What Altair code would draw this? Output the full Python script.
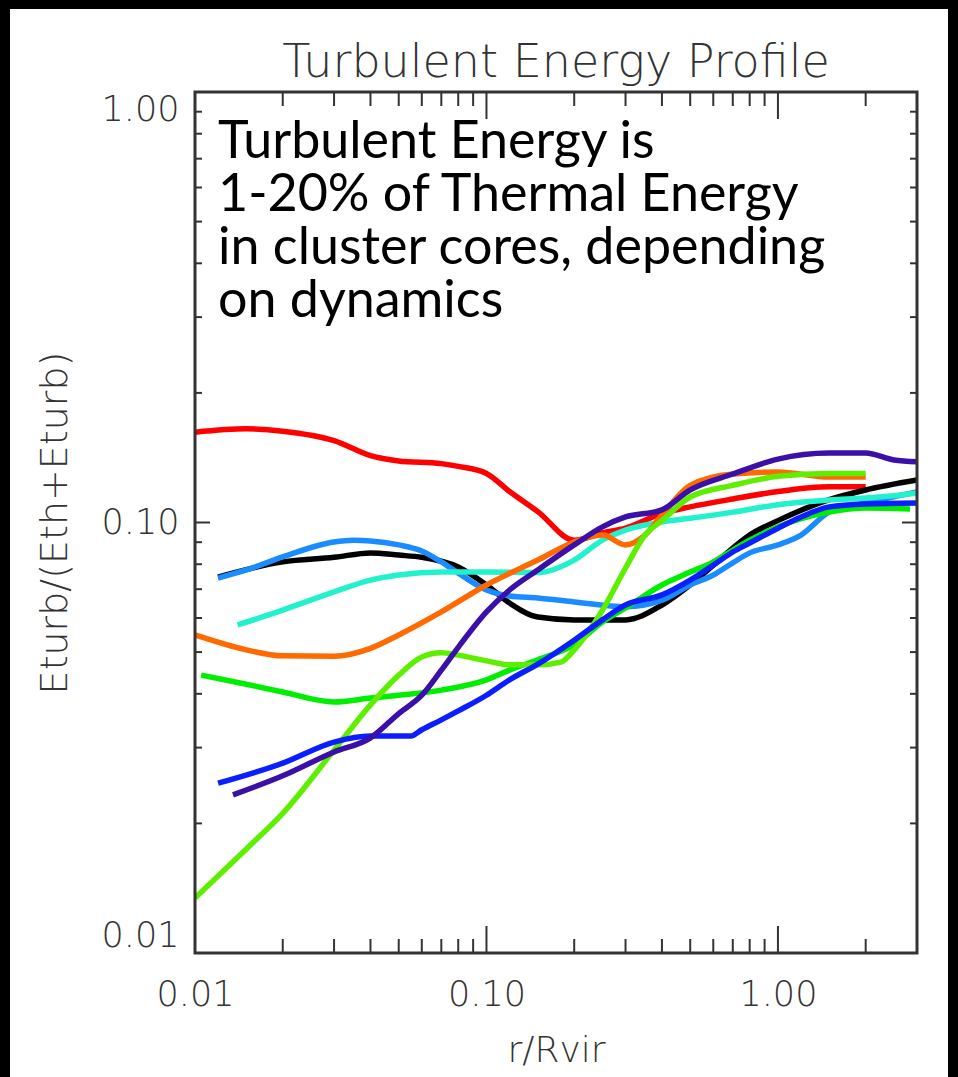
import altair as alt
import pandas as pd

W, H = 722, 861

names = ["red", "black", "lightblue", "cyan", "orange", "green", "yellowgreen", "blue", "purple"]
colors = ["#ff0000", "#000000", "#1a8cff", "#22f2cc", "#ff6a00", "#00ee00", "#5eef00", "#0a1eff", "#3a10a8"]

red_x = [0.01, 0.015, 0.02, 0.03, 0.04, 0.05, 0.07, 0.08, 0.1, 0.12, 0.15, 0.2, 0.25, 0.3, 0.4, 0.5, 0.7, 1.0, 1.5, 2.0]
red_y = [0.162, 0.165, 0.163, 0.155, 0.143, 0.139, 0.137, 0.135, 0.130, 0.118, 0.106, 0.091, 0.0946, 0.097, 0.105, 0.1087, 0.1134, 0.118, 0.121, 0.121]

black_x = [0.012, 0.02, 0.03, 0.04, 0.05, 0.06, 0.08, 0.1, 0.12, 0.15, 0.2, 0.3, 0.4, 0.5, 0.6, 0.7, 0.8, 1.0, 1.5, 2.0, 3.0]
black_y = [0.0747, 0.081, 0.083, 0.085, 0.084, 0.083, 0.0788, 0.0716, 0.065, 0.0603, 0.0594, 0.0594, 0.0643, 0.0716, 0.0796, 0.0872, 0.0935, 0.101, 0.113, 0.119, 0.1255]

lightblue_x = [0.012, 0.015, 0.02, 0.03, 0.035, 0.04, 0.05, 0.06, 0.07, 0.08, 0.1, 0.12, 0.15, 0.2, 0.3, 0.4, 0.5, 0.6, 0.7, 0.8, 1.0, 1.2, 1.5, 2.0, 3.0]
lightblue_y = [0.0743, 0.0776, 0.0832, 0.0901, 0.0909, 0.0906, 0.0887, 0.0859, 0.081, 0.0763, 0.0697, 0.0675, 0.0668, 0.0654, 0.0637, 0.066, 0.0716, 0.0755, 0.0806, 0.085, 0.0887, 0.0935, 0.1057, 0.111, 0.1178]

cyan_x = [0.014, 0.02, 0.03, 0.04, 0.05, 0.07, 0.1, 0.15, 0.2, 0.25, 0.3, 0.4, 0.5, 0.7, 1.0, 1.5, 2.0, 3.0]
cyan_y = [0.0578, 0.0626, 0.069, 0.0735, 0.0755, 0.0767, 0.0767, 0.0765, 0.0818, 0.091, 0.096, 0.1003, 0.1023, 0.1057, 0.11, 0.1128, 0.114, 0.117]

orange_x = [0.01, 0.015, 0.02, 0.03, 0.04, 0.05, 0.07, 0.1, 0.15, 0.2, 0.25, 0.3, 0.35, 0.4, 0.5, 0.7, 1.0, 1.5, 2.0]
orange_y = [0.0548, 0.0506, 0.049, 0.0489, 0.051, 0.0548, 0.062, 0.0716, 0.0818, 0.0901, 0.0935, 0.0887, 0.0935, 0.104, 0.122, 0.1296, 0.131, 0.1275, 0.1275]

green_x = [0.0105, 0.015, 0.02, 0.03, 0.04, 0.05, 0.07, 0.1, 0.12, 0.15, 0.2, 0.25, 0.3, 0.4, 0.5, 0.6, 0.7, 0.8, 1.0, 1.5, 2.0, 2.84]
green_y = [0.0442, 0.0421, 0.0404, 0.0383, 0.0391, 0.0397, 0.0408, 0.0431, 0.0454, 0.048, 0.052, 0.0587, 0.0633, 0.0716, 0.0767, 0.081, 0.0863, 0.091, 0.0977, 0.1057, 0.108, 0.1075]

yellowgreen_x = [0.01, 0.015, 0.02, 0.03, 0.04, 0.05, 0.06, 0.07, 0.08, 0.1, 0.12, 0.15, 0.18, 0.2, 0.25, 0.3, 0.35, 0.4, 0.5, 0.7, 1.0, 1.5, 2.0]
yellowgreen_y = [0.01342, 0.01745, 0.0211, 0.0296, 0.0377, 0.0442, 0.0487, 0.0498, 0.0492, 0.0477, 0.0467, 0.0467, 0.0474, 0.0506, 0.0626, 0.0784, 0.0935, 0.101, 0.1146, 0.122, 0.128, 0.130, 0.130]

blue_x = [0.012, 0.02, 0.03, 0.04, 0.05, 0.055, 0.06, 0.07, 0.08, 0.1, 0.12, 0.15, 0.2, 0.25, 0.3, 0.4, 0.5, 0.6, 0.7, 0.8, 1.0, 1.2, 1.5, 2.0, 3.0]
blue_y = [0.0248, 0.0276, 0.0309, 0.0319, 0.0319, 0.0319, 0.033, 0.0348, 0.0365, 0.0397, 0.0431, 0.0469, 0.0533, 0.0594, 0.0643, 0.0679, 0.0735, 0.0796, 0.0854, 0.0896, 0.097, 0.103, 0.1087, 0.1104, 0.111]

purple_x = [0.0135, 0.02, 0.03, 0.04, 0.05, 0.06, 0.07, 0.08, 0.1, 0.12, 0.15, 0.2, 0.25, 0.3, 0.4, 0.5, 0.7, 1.0, 1.5, 2.0, 2.5, 3.0]
purple_y = [0.0233, 0.0258, 0.0293, 0.0316, 0.036, 0.0397, 0.0454, 0.0513, 0.062, 0.0697, 0.0776, 0.0887, 0.0977, 0.103, 0.107, 0.119, 0.1296, 0.1404, 0.145, 0.145, 0.1397, 0.1383]

x_major = [0.1, 1.0]
x_minor = [0.02, 0.03, 0.04, 0.05, 0.06, 0.07, 0.08, 0.09, 0.2, 0.3, 0.4, 0.5, 0.6, 0.7, 0.8, 0.9, 2.0]
y_major = [0.1]
y_minor = [0.02, 0.03, 0.04, 0.05, 0.06, 0.07, 0.08, 0.09, 0.2, 0.3, 0.4, 0.5, 0.6, 0.7, 0.8, 0.9]
x_labels = [0.01, 0.1, 1.0]
y_labels = [0.01, 0.1, 1.0]

title_text = "Turbulent  Energy  Profile"
annotation = "Turbulent Energy is\n1-20% of Thermal Energy\nin cluster cores,  depending\non dynamics"

series = {
    "red": (red_x, red_y), "black": (black_x, black_y), "lightblue": (lightblue_x, lightblue_y),
    "cyan": (cyan_x, cyan_y), "orange": (orange_x, orange_y), "green": (green_x, green_y),
    "yellowgreen": (yellowgreen_x, yellowgreen_y), "blue": (blue_x, blue_y), "purple": (purple_x, purple_y),
}
rows = []
for s, (xs_, ys_) in series.items():
    for i, (a, b) in enumerate(zip(xs_, ys_)):
        rows.append({"s": s, "x": a, "y": b, "i": i})
df = pd.DataFrame(rows)

INK = "#333333"
AXFONT = "DejaVu Sans"

xscale = alt.Scale(type="log", domain=[0.01, 3.0], nice=False)
yscale = alt.Scale(type="log", domain=[0.01, 1.0], nice=False)

xaxis = alt.Axis(values=x_labels, format=".2f", ticks=False, domain=False, grid=False,
                 labelFont=AXFONT, labelFontSize=35, labelFontWeight=200, labelColor=INK, labelPadding=24,
                 labelFlush=False, labelOverlap=False,
                 title="r/Rvir", titleFont=AXFONT, titleFontSize=36, titleFontWeight=200,
                 titleColor=INK, titleX=W / 2, titleY=97, titleBaseline="middle", titleAlign="center",
                 zindex=1)
yaxis = alt.Axis(values=y_labels, format=".2f", ticks=False, domain=False, grid=False,
                 labelFont=AXFONT, labelFontSize=35, labelFontWeight=200, labelColor=INK, labelPadding=16,
                 labelFlush=True, labelOverlap=False,
                 title="Eturb/(Eth+Eturb)", titleFont=AXFONT, titleFontSize=38, titleFontWeight=200,
                 titleColor=INK, titleX=-140, titleY=H / 2, titleBaseline="middle", titleAlign="center",
                 titleAngle=270, zindex=1)


def X(field):
    return alt.X(field, type="quantitative", scale=xscale, axis=xaxis)


def Y(field):
    return alt.Y(field, type="quantitative", scale=yscale, axis=yaxis)


one = pd.DataFrame({"a": [0]})

bg = alt.Chart(one).mark_rect(color="white").encode(
    x=alt.value(-185), x2=alt.value(W + 31), y=alt.value(-83), y2=alt.value(H + 124)
)

lines = alt.Chart(df).mark_line(strokeWidth=5.5, clip=True, interpolate="monotone").encode(
    x=X("x"), y=Y("y"),
    color=alt.Color("s:N", scale=alt.Scale(domain=names, range=colors), legend=None),
    order="i:Q",
)

tick_style = dict(color=INK, strokeWidth=2)
xmaj = pd.DataFrame({"v": x_major})
xmin = pd.DataFrame({"v": x_minor})
ymaj = pd.DataFrame({"v": y_major})
ymin = pd.DataFrame({"v": y_minor})

ticks = [
    alt.Chart(xmaj).mark_rule(**tick_style).encode(x=X("v"), y=alt.value(H), y2=alt.value(H - 27)),
    alt.Chart(xmin).mark_rule(**tick_style).encode(x=X("v"), y=alt.value(H), y2=alt.value(H - 14)),
    alt.Chart(xmaj).mark_rule(**tick_style).encode(x=X("v"), y=alt.value(0), y2=alt.value(27)),
    alt.Chart(xmin).mark_rule(**tick_style).encode(x=X("v"), y=alt.value(0), y2=alt.value(14)),
    alt.Chart(ymaj).mark_rule(**tick_style).encode(y=Y("v"), x=alt.value(0), x2=alt.value(15)),
    alt.Chart(ymin).mark_rule(**tick_style).encode(y=Y("v"), x=alt.value(0), x2=alt.value(7)),
    alt.Chart(ymaj).mark_rule(**tick_style).encode(y=Y("v"), x=alt.value(W), x2=alt.value(W - 15)),
    alt.Chart(ymin).mark_rule(**tick_style).encode(y=Y("v"), x=alt.value(W), x2=alt.value(W - 7)),
]

frame = alt.Chart(one).mark_rect(filled=False, stroke=INK, strokeWidth=3).encode(
    x=alt.value(0), x2=alt.value(W), y=alt.value(0), y2=alt.value(H)
)

note = alt.Chart(pd.DataFrame({"t": [annotation]})).mark_text(
    align="left", baseline="alphabetic", font="Lato", fontSize=52, lineHeight=53,
    lineBreak="\n", color="black"
).encode(text="t:N", x=alt.value(23), y=alt.value(66))

title = alt.Chart(pd.DataFrame({"t": [title_text]})).mark_text(
    align="center", baseline="alphabetic", font=AXFONT, fontSize=46,
    fontWeight=200, color=INK
).encode(text="t:N", x=alt.value(W / 2), y=alt.value(-15))

chart = alt.layer(bg, lines, *ticks, frame, note, title).properties(
    width=W, height=H,
    autosize=alt.AutoSizeParams(type="none"),
    padding={"left": 195, "top": 92, "right": 41, "bottom": 124},
    background="black",
).configure_view(stroke=None)

chart.save("out.html", embed_options={"renderer": "svg", "actions": False})
